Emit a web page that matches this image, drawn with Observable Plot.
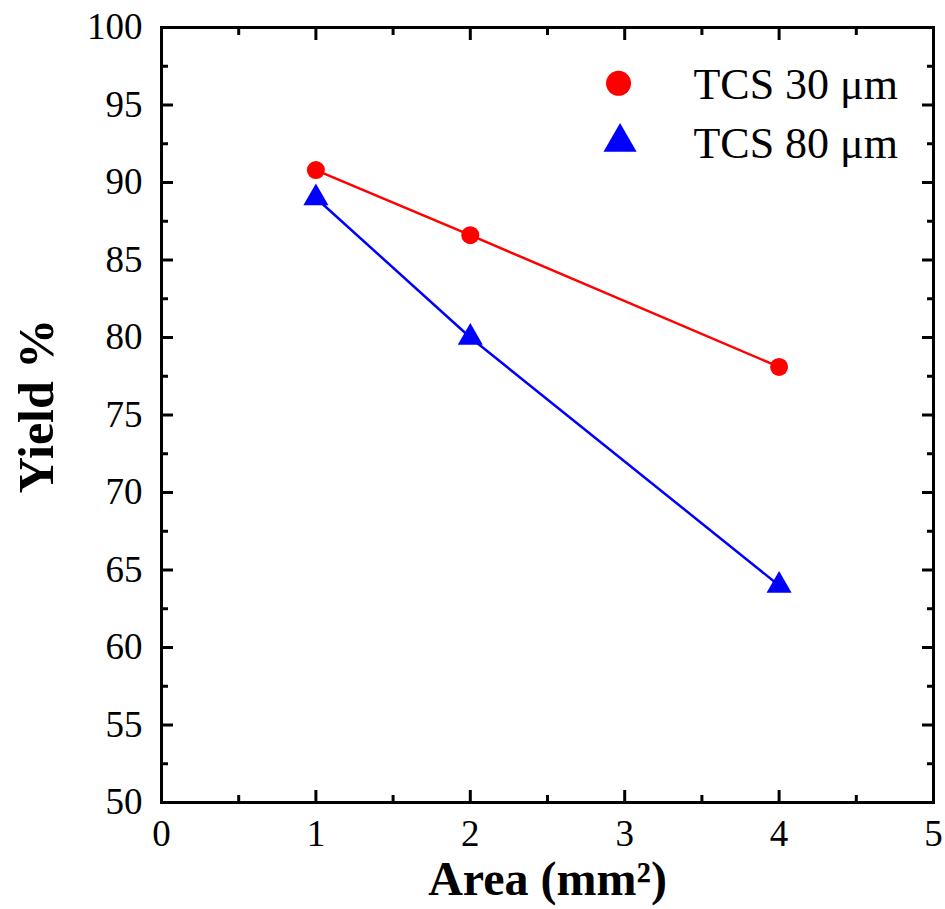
<!DOCTYPE html>
<html>
<head>
<meta charset="utf-8">
<script src="https://cdn.jsdelivr.net/npm/d3@7"></script>
<script src="https://cdn.jsdelivr.net/npm/@observablehq/plot@0.6"></script>
<style>
  html, body { margin: 0; padding: 0; background: #fff; }
</style>
</head>
<body>
<div id="chart"></div>
<script>
// Data
const area = [1, 2, 4];
const yield30 = [90.8, 86.6, 78.1];
const yield80 = [89.0, 80.0, 64.0];
const seriesNames = ["TCS 30 μm", "TCS 80 μm"];

// Axis ticks
const xMajor = [0, 1, 2, 3, 4, 5];
const xMinor = [0.5, 1.5, 2.5, 3.5, 4.5];
const yMajor = [50, 55, 60, 65, 70, 75, 80, 85, 90, 95, 100];
const yMinor = [52.5, 57.5, 62.5, 67.5, 72.5, 77.5, 82.5, 87.5, 92.5, 97.5];

// Legend placement (data coordinates)
const legendMarkerX = [2.96, 2.97];
const legendY = [96.4, 92.6];
const legendTextX = [3.445, 3.445];

const xTitle = "Area (mm²)";
const yTitle = "Yield %";

const s30 = area.map((a, i) => ({x: a, y: yield30[i]}));
const s80 = area.map((a, i) => ({x: a, y: yield80[i]}));
const leg = seriesNames.map((n, i) => ({name: n, mx: legendMarkerX[i], tx: legendTextX[i], y: legendY[i]}));

const blank = () => "";
const tickStyle = {strokeWidth: 3, label: null};

const chart = Plot.plot({
  width: 945,
  height: 909,
  marginLeft: 161,
  marginRight: 12,
  marginTop: 27,
  marginBottom: 107,
  x: {domain: [0, 5]},
  y: {domain: [50, 100]},
  style: {fontFamily: "'Liberation Serif', 'Times New Roman', serif", background: "white", color: "black"},
  marks: [
    // tick labels
    Plot.axisX({ticks: xMajor, tickSize: 0, tickPadding: 17, fontSize: 37, label: null, tickFormat: d => String(d)}),
    Plot.axisY({ticks: yMajor, tickSize: 0, tickPadding: 19, fontSize: 37, label: null, tickFormat: d => String(d)}),
    // inward major ticks on all four sides
    Plot.axisX({anchor: "bottom", ticks: xMajor, tickSize: -12, tickFormat: blank, ...tickStyle}),
    Plot.axisX({anchor: "top", ticks: xMajor, tickSize: -12, tickFormat: blank, ...tickStyle}),
    Plot.axisY({anchor: "left", ticks: yMajor, tickSize: -12, tickFormat: blank, ...tickStyle}),
    Plot.axisY({anchor: "right", ticks: yMajor, tickSize: -12, tickFormat: blank, ...tickStyle}),
    // inward minor ticks
    Plot.axisX({anchor: "bottom", ticks: xMinor, tickSize: -7, tickFormat: blank, ...tickStyle}),
    Plot.axisX({anchor: "top", ticks: xMinor, tickSize: -7, tickFormat: blank, ...tickStyle}),
    Plot.axisY({anchor: "left", ticks: yMinor, tickSize: -7, tickFormat: blank, ...tickStyle}),
    Plot.axisY({anchor: "right", ticks: yMinor, tickSize: -7, tickFormat: blank, ...tickStyle}),
    Plot.frame({stroke: "black", strokeWidth: 3}),
    // series
    Plot.line(s30, {x: "x", y: "y", stroke: "#ff0000", strokeWidth: 2.5}),
    Plot.line(s80, {x: "x", y: "y", stroke: "#0000ff", strokeWidth: 2.5}),
    Plot.dot(s30, {x: "x", y: "y", r: 9, fill: "#ff0000", stroke: "none"}),
    Plot.dot(s80, {x: "x", y: "y", r: 9.3, symbol: "triangle", fill: "#0000ff", stroke: "none"}),
    // legend
    Plot.dot([leg[0]], {x: "mx", y: "y", r: 12.5, fill: "#ff0000", stroke: "none"}),
    Plot.dot([leg[1]], {x: "mx", y: "y", r: 12.3, symbol: "triangle", fill: "#0000ff", stroke: "none"}),
    Plot.text(leg, {x: "tx", y: "y", text: "name", textAnchor: "start", fontSize: 44, dy: 2, fill: "black"}),
    // axis titles
    Plot.text([yTitle], {frameAnchor: "left", textAnchor: "middle", lineAnchor: "middle", rotate: -90, dx: -125, dy: -9, fontSize: 50, fontWeight: "bold", fill: "black"}),
    Plot.text([xTitle], {frameAnchor: "bottom", textAnchor: "middle", lineAnchor: "middle", dy: 77, fontSize: 48, fontWeight: "bold", fill: "black"})
  ]
});
document.getElementById("chart").appendChild(chart);
</script>
</body>
</html>
